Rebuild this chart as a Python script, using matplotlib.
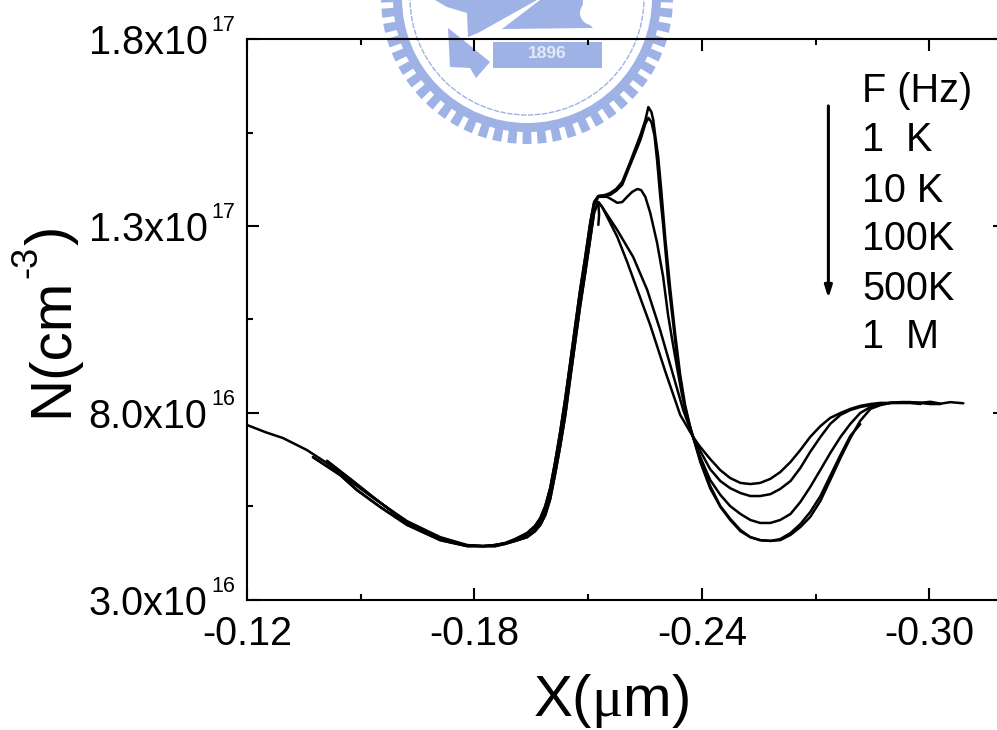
#!/usr/bin/env python3
"""Perfil N(X) a varias frecuencias, con el sello de fondo"""
import numpy as np
import matplotlib
matplotlib.use('Agg')
import matplotlib.pyplot as plt
from matplotlib.patches import Circle, Polygon, Wedge

plt.rcParams['font.family'] = ['Liberation Sans', 'DejaVu Sans']
plt.rcParams['mathtext.fontset'] = 'custom'
plt.rcParams['mathtext.rm'] = 'Liberation Sans'
plt.rcParams['mathtext.cal'] = 'Liberation Serif'
plt.rcParams['mathtext.default'] = 'regular'

# N en unidades de 1e16 cm-3, X en um
# tramo izquierdo
x_left_long = [-0.1200, -0.1248, -0.1295, -0.1358, -0.1411, -0.1472, -0.1533, -0.1622, -0.1710, -0.1781]
n_left_long = [7.68, 7.49, 7.33, 7.01, 6.66, 6.18, 5.73, 5.11, 4.68, 4.47]
x_left_short = [-0.1374, -0.1446, -0.1490, -0.1551, -0.1622, -0.1710, -0.1781]
n_left_short = [6.82, 6.34, 5.94, 5.49, 5.01, 4.60, 4.44]
x_left_mid = [-0.1411, -0.1472, -0.1533, -0.1622, -0.1710, -0.1781]
n_left_mid = [6.72, 6.24, 5.75, 5.06, 4.63, 4.46]
# subida al primer pico
x_rise = [-0.1823, -0.1855, -0.1881, -0.1908, -0.1939, -0.1960, -0.1974, -0.1987, -0.2000, -0.2013,
          -0.2026, -0.2040, -0.2053, -0.2066, -0.2079, -0.2092, -0.2106, -0.2116, -0.2127]
n_rise_a = [4.44, 4.47, 4.52, 4.63, 4.79, 4.98, 5.19, 5.51, 5.99, 6.69,
            7.47, 8.40, 9.36, 10.33, 11.29, 12.14, 13.11, 13.64, 13.80]
n_rise_c = [4.44, 4.47, 4.52, 4.60, 4.74, 4.93, 5.11, 5.41, 5.86, 6.56,
            7.30, 8.21, 9.18, 10.14, 11.10, 11.96, 12.92, 13.56, 13.78]
n_rise_b = [4.44, 4.44, 4.50, 4.58, 4.68, 4.84, 5.01, 5.27, 5.70, 6.37,
            7.09, 7.95, 8.94, 9.90, 10.86, 11.72, 12.68, 13.37, 13.64]
# zona del pico
x_peak_1k = [-0.2145, -0.2158, -0.2174, -0.2190, -0.2211, -0.2238, -0.2251, -0.2259, -0.2267, -0.2272,
             -0.2277, -0.2285, -0.2293, -0.2304, -0.2317, -0.2330, -0.2343, -0.2356, -0.2370, -0.2377]
n_peak_1k = [13.83, 13.88, 13.99, 14.18, 14.71, 15.43, 15.83, 16.18, 16.05, 15.83,
             15.43, 14.85, 13.96, 12.63, 11.29, 10.09, 9.02, 8.21, 7.60, 7.36]
x_peak_10k = [-0.2158, -0.2174, -0.2190, -0.2211, -0.2238, -0.2251, -0.2259, -0.2267, -0.2275, -0.2282,
              -0.2290, -0.2298, -0.2311, -0.2325, -0.2338, -0.2354, -0.2370, -0.2377]
n_peak_10k = [13.83, 13.94, 14.10, 14.63, 15.30, 15.73, 15.89, 15.78, 15.43, 14.76,
              13.83, 13.03, 11.56, 10.35, 9.20, 8.21, 7.55, 7.36]
x_peak_100k = [-0.2150, -0.2164, -0.2177, -0.2190, -0.2203, -0.2216, -0.2230, -0.2240, -0.2251, -0.2264,
               -0.2282, -0.2298, -0.2311, -0.2322, -0.2335, -0.2348, -0.2364, -0.2377]
n_peak_100k = [13.78, 13.70, 13.62, 13.64, 13.78, 13.91, 13.99, 13.96, 13.78, 13.35,
               12.55, 11.64, 10.62, 9.95, 9.20, 8.48, 7.81, 7.36]
x_peak_500k = [-0.2137, -0.2177, -0.2219, -0.2256, -0.2290, -0.2322, -0.2351, -0.2377]
n_peak_500k = [13.51, 12.89, 12.17, 11.29, 10.22, 9.10, 8.08, 7.36]
x_peak_1m = [-0.2137, -0.2177, -0.2203, -0.2230, -0.2264, -0.2304, -0.2343, -0.2377]
n_peak_1m = [13.51, 12.71, 12.04, 11.29, 10.35, 9.10, 7.95, 7.36]
# valle y meseta derecha
x_tail = [-0.2396, -0.2422, -0.2449, -0.2475, -0.2502, -0.2528, -0.2554, -0.2581, -0.2607, -0.2634,
          -0.2660, -0.2686, -0.2713, -0.2739, -0.2766, -0.2792, -0.2818, -0.2845, -0.2871, -0.2898,
          -0.2924, -0.2950, -0.2977, -0.3003, -0.3030, -0.3056, -0.3090]
n_tail_1k = [6.69, 5.99, 5.49, 5.14, 4.84, 4.68, 4.60, 4.58, 4.60, 4.74,
             4.95, 5.22, 5.65, 6.21, 6.80, 7.33, 7.79, 8.11, 8.21, 8.27,
             8.29, 8.29, 8.27, 8.30, 8.25, 8.29, 8.26]
n_tail_10k = [6.74, 6.05, 5.51, 5.17, 4.87, 4.68, 4.60, 4.58, 4.63, 4.79,
              5.03, 5.35, 5.78, 6.32, 6.88, 7.39, 7.70]
n_tail_100k = [6.82, 6.21, 5.81, 5.51, 5.30, 5.14, 5.06, 5.06, 5.14, 5.30,
               5.62, 6.02, 6.48, 6.93, 7.36, 7.71, 8.00, 8.16, 8.24, 8.27,
               8.27, 8.27, 8.27, 8.24, 8.24]
n_tail_500k = [6.98, 6.50, 6.18, 5.99, 5.86, 5.78, 5.78, 5.83, 5.97, 6.18,
               6.53, 6.96, 7.36, 7.71, 7.95, 8.08, 8.16, 8.21, 8.24, 8.27,
               8.27, 8.27, 8.24]
n_tail_1m = [7.09, 6.77, 6.47, 6.26, 6.13, 6.10, 6.13, 6.24, 6.42, 6.69,
             7.01, 7.36, 7.65, 7.87, 8.00, 8.11, 8.19, 8.24, 8.27, 8.27,
             8.29, 8.29, 8.27, 8.27]
# pequeño trazo vertical bajo el primer pico
x_stub = [-0.2127, -0.2129, -0.2127]
n_stub = [13.62, 13.30, 13.03]

x_ticks = [-0.12, -0.18, -0.24, -0.30]
x_ticklabels = ['-0.12', '-0.18', '-0.24', '-0.30']
x_minor = [-0.15, -0.21, -0.27]
y_ticks = [3, 8, 13, 18]
y_mantisas = ['3.0x10', '8.0x10', '1.3x10', '1.8x10']
y_exponentes = ['16', '16', '17', '17']
y_minor = [5.5, 10.5, 15.5]
freq_labels = ['F (Hz)', '1  K', '10 K', '100K', '500K', '1  M']
freq_baselines = [102, 151, 202, 250, 300, 348]
seal_year = '1896'

W, H = 997, 730
SEAL = '#9fb2e6'

fig = plt.figure(figsize=(W / 100.0, H / 100.0), dpi=100, facecolor='w')


def px(x, y):
    """Píxel de la imagen a fracción de figura"""
    return x / float(W), 1 - y / float(H)


def _sello(fig):
    """Sello de fondo, en coordenadas de píxel"""
    bg = fig.add_axes([0, 0, 1, 1], zorder=0)
    bg.set_xlim(0, W)
    bg.set_ylim(H, 0)
    bg.axis('off')
    cx, cy = 527, -2
    # dientes
    for ang in np.arange(0, 360, 6.0):
        bg.add_patch(Wedge((cx, cy), 146, ang - 1.8, ang + 1.8, width=14, fc=SEAL, ec='none'))
    bg.add_patch(Circle((cx, cy), 134, fc=SEAL, ec='none'))
    bg.add_patch(Circle((cx, cy), 125, fc='w', ec='none'))
    bg.add_patch(Circle((cx, cy), 117, fc='none', ec=SEAL, lw=1, ls=(0, (4, 1))))
    # figuras interiores
    bg.add_patch(Polygon([(435, 0), (537, 0), (478, 33), (468, 37), (467, 13), (447, 7)], fc=SEAL, ec='none'))
    bg.add_patch(Polygon([(540, 0), (583, 0), (582, 17), (593, 28), (502, 29)], fc=SEAL, ec='none'))
    bg.add_patch(Circle((592, 13), 12, fc='w', ec='none'))
    bg.add_patch(Polygon([(448, 28), (467, 43), (490, 62), (476, 78), (470, 68), (450, 67)], fc=SEAL, ec='none'))
    bg.add_patch(Polygon([(493, 42), (602, 42), (602, 68), (493, 68)], fc=SEAL, ec='none'))
    bg.text(547, 54, seal_year, color='#e4e9f8', fontsize=12.5, fontweight='bold', ha='center', va='center')


_sello(fig)

# el eje llega a -0.32, más allá del borde derecho de la figura
ax = fig.add_axes([247.0 / W, 1 - 600.0 / H, 758.0 / W, 561.0 / H], zorder=1)
ax.patch.set_alpha(0)
ax.set_xlim(-0.12, -0.32)
ax.set_ylim(3, 18)

estilo = dict(color='k', lw=1.8, solid_joinstyle='round', solid_capstyle='round')
# 1 K
ax.plot(x_left_long + x_rise + x_peak_1k + x_tail, n_left_long + n_rise_a + n_peak_1k + n_tail_1k, **estilo)
# 10 K
ax.plot(x_left_short + x_rise + x_peak_10k + x_tail[:len(n_tail_10k)],
        n_left_short + n_rise_a + n_peak_10k + n_tail_10k, **estilo)
# 100 K
ax.plot(x_left_mid + x_rise + x_peak_100k + x_tail[:len(n_tail_100k)],
        n_left_mid + n_rise_c + n_peak_100k + n_tail_100k, **estilo)
# 500 K
ax.plot(x_left_mid + x_rise + x_peak_500k + x_tail[:len(n_tail_500k)],
        n_left_mid + n_rise_b + n_peak_500k + n_tail_500k, **estilo)
# 1 M
ax.plot(x_left_short + x_rise + x_peak_1m + x_tail[:len(n_tail_1m)],
        n_left_short + n_rise_b + n_peak_1m + n_tail_1m, **estilo)
ax.plot(x_stub, n_stub, **estilo)

# Ejes
for s in ax.spines.values():
    s.set_linewidth(1.5)
ax.set_xticks(x_ticks)
ax.set_xticklabels(x_ticklabels)
ax.set_xticks(x_minor, minor=True)
ax.set_yticks(y_ticks)
ax.set_yticklabels([])
ax.set_yticks(y_minor, minor=True)
ax.tick_params(which='major', direction='in', length=8.6, width=1.5, top=True, right=True, labelsize=28.5, pad=11)
ax.tick_params(which='minor', direction='in', length=4.3, width=1.5, top=True, right=True)

# Rótulos del eje y: mantisa y exponente por separado, el exponente es pequeño
for tick, mant, expo in zip(y_ticks, y_mantisas, y_exponentes):
    ax.annotate(mant, xy=(0, tick), xycoords=('axes fraction', 'data'), xytext=(-28.5, -11),
                textcoords='offset points', fontsize=28.5, ha='right', va='baseline')
    ax.annotate(expo, xy=(0, tick), xycoords=('axes fraction', 'data'), xytext=(-26, 5.5),
                textcoords='offset points', fontsize=15.5, ha='left', va='baseline')

fig.text(*px(611, 716), r'X($\mathcal{\mu}$m)', fontsize=42, ha='center', va='baseline')
# rótulo vertical por piezas para ajustar el exponente
rot = dict(rotation=90, rotation_mode='anchor', ha='left', va='baseline')
fig.text(*px(67, 417), 'N(cm', fontsize=42, **rot)
fig.text(*px(36, 278), '-3', fontsize=26, **rot)
fig.text(*px(67, 245), ')', fontsize=42, **rot)

for lab, py in zip(freq_labels, freq_baselines):
    fig.text(*px(862, py), lab, fontsize=28.5, ha='left', va='baseline')

# Flecha de frecuencia creciente
ax.annotate('', xy=(-0.2734, 11.07), xytext=(-0.2734, 16.21),
            arrowprops=dict(arrowstyle='-|>,head_width=0.22,head_length=0.7', color='k', lw=2.2, shrinkA=0, shrinkB=0))

fig.savefig('out.png', dpi=100)
